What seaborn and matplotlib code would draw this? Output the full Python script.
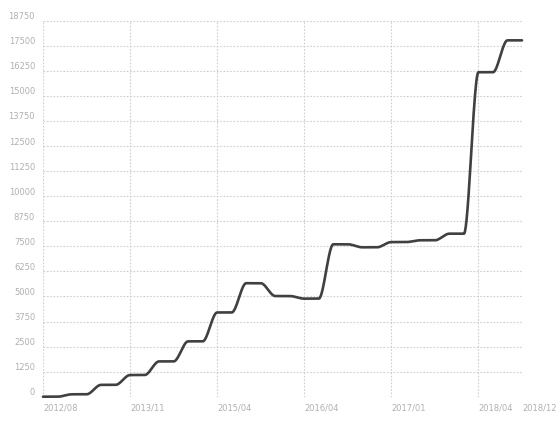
import numpy as np
import pandas as pd
import matplotlib
matplotlib.use('Agg')
import matplotlib.pyplot as plt
import matplotlib.transforms as mtransforms
import seaborn as sns

# --- data (pairs of equal points = flat steps) ---
values = [0, 0, 120, 120, 590, 590, 1080, 1080, 1760, 1760,
          2760, 2760, 4200, 4200, 5660, 5660, 5020, 5020, 4890, 4890,
          7600, 7600, 7450, 7450, 7710, 7710, 7800, 7800, 8130, 8130,
          16180, 16180, 17770, 17770]
tick_idx = [0, 6, 12, 18, 24, 30, 33]
tick_labels = ['2012/08', '2013/11', '2015/04', '2016/04', '2017/01', '2018/04', '2018/12']
y_ticks = list(range(0, 18751, 1250))

LINE = '#404040'
GRID = '#cfcfcf'
TXT = '#b0b0b0'


def monotone_curve(y, n=40):
    # Fritsch-Carlson monotone cubic, keeps the flat parts flat
    y = np.asarray(y, dtype=float)
    x = np.arange(len(y), dtype=float)
    d = np.diff(y)
    m = np.zeros_like(y)
    m[0], m[-1] = d[0], d[-1]
    for i in range(1, len(y) - 1):
        if d[i - 1] * d[i] > 0:
            m[i] = 2.0 / (1.0 / d[i - 1] + 1.0 / d[i])
    m[0] = 0 if d[0] == 0 else m[0]
    m[-1] = 0 if d[-1] == 0 else m[-1]
    xs, ys = [], []
    for i in range(len(y) - 1):
        t = np.linspace(0, 1, n, endpoint=False)
        h00 = 2 * t**3 - 3 * t**2 + 1
        h10 = t**3 - 2 * t**2 + t
        h01 = -2 * t**3 + 3 * t**2
        h11 = t**3 - t**2
        xs.append(x[i] + t)
        ys.append(h00 * y[i] + h10 * m[i] + h01 * y[i + 1] + h11 * m[i + 1])
    xs.append([x[-1]])
    ys.append([y[-1]])
    return np.concatenate(xs), np.concatenate(ys)


sx, sy = monotone_curve(values)
df = pd.DataFrame({'idx': sx, 'val': sy})

sns.set_theme(style='white')
plt.rcParams['font.family'] = ['DejaVu Sans']

fig = plt.figure(figsize=(5.56, 4.25), dpi=100)
ax = fig.add_axes([43 / 556, 1 - 396.7 / 425, (522 - 43) / 556, (396.7 - 20.7) / 425])

sns.lineplot(data=df, x='idx', y='val', ax=ax, color=LINE, linewidth=1.9,
             estimator=None, sort=False, clip_on=False, zorder=3)

ax.set_xlim(0, len(values) - 1)
ax.set_ylim(0, 18750)
ax.set_xlabel('')
ax.set_ylabel('')
for s in ax.spines.values():
    s.set_visible(False)

ax.set_xticks(tick_idx)
ax.set_xticklabels(tick_labels)
ax.set_yticks(y_ticks)
ax.set_yticklabels([str(v) for v in y_ticks])
ax.grid(True, linestyle=(0, (1.5, 1.5)), color=GRID, linewidth=0.8)
ax.tick_params(axis='both', length=0, labelsize=6.0, labelcolor=TXT)
ax.tick_params(axis='y', pad=5.7)
ax.tick_params(axis='x', pad=5)

for lab in ax.get_xticklabels():
    lab.set_ha('left')
up = mtransforms.ScaledTranslation(0, 5 / 100, fig.dpi_scale_trans)
for lab in ax.get_yticklabels():
    lab.set_transform(lab.get_transform() + up)

fig.savefig('out.png', dpi=100)
